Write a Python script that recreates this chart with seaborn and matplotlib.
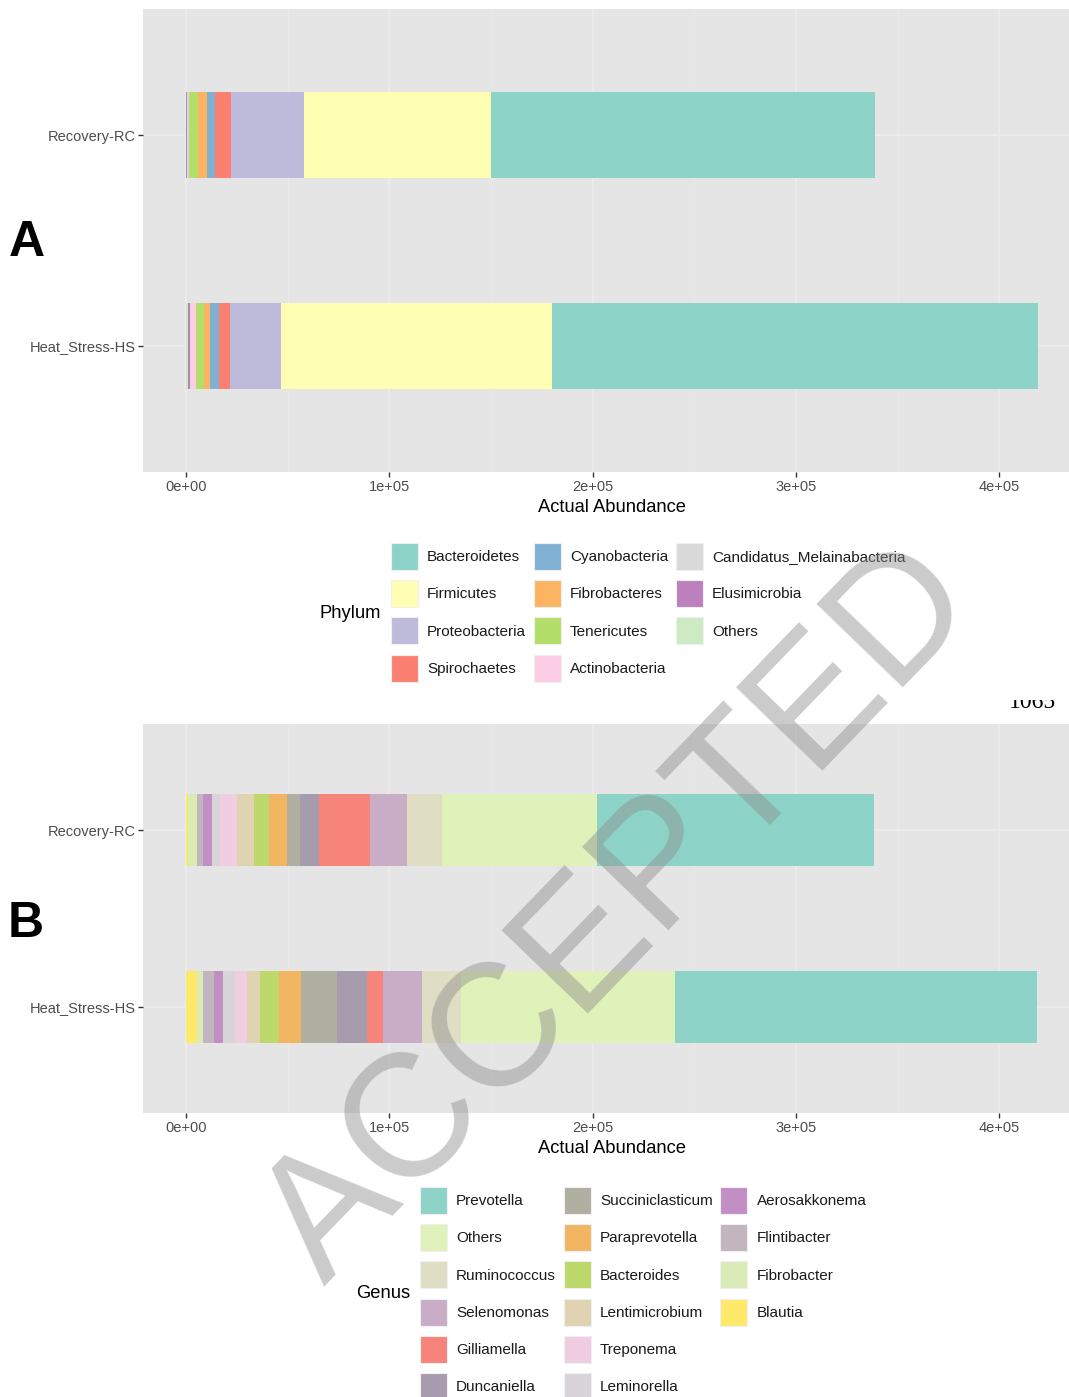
import numpy as np
import pandas as pd
import seaborn as sns
import matplotlib
matplotlib.use("Agg")
import matplotlib.pyplot as plt
from matplotlib.patches import Patch, Rectangle

# Samples, listed bottom to top
samples = ["Heat_Stress-HS", "Recovery-RC"]

# Phylum-level abundance (legend order; first level sits at the right end of the stack)
phyla = ["Bacteroidetes", "Firmicutes", "Proteobacteria", "Spirochaetes",
         "Cyanobacteria", "Fibrobacteres", "Tenericutes", "Actinobacteria",
         "Candidatus_Melainabacteria", "Elusimicrobia", "Others"]
phylum_hs = [239400, 133300, 25100, 5100, 4300, 2900, 4300, 2400, 300, 1000, 1100]
phylum_rc = [188900, 91800, 35700, 7900, 4300, 4300, 4200, 200, 700, 500, 200]
phylum_colors = ["#8DD3C7", "#FFFFB3", "#BEBADA", "#FB8072", "#80B1D3", "#FDB462",
                 "#B3DE69", "#FCCDE5", "#D9D9D9", "#BC80BD", "#CCEBC5"]

# Genus-level abundance
genera = ["Prevotella", "Others", "Ruminococcus", "Selenomonas", "Gilliamella",
          "Duncaniella", "Succiniclasticum", "Paraprevotella", "Bacteroides",
          "Lentimicrobium", "Treponema", "Leminorella", "Aerosakkonema",
          "Flintibacter", "Fibrobacter", "Blautia"]
genus_hs = [178300, 105200, 19300, 19300, 7900, 14400, 17800, 10900, 9400,
            6200, 5800, 6000, 4400, 5600, 2800, 5500]
genus_rc = [136300, 76400, 17100, 18100, 25100, 9500, 6200, 9300, 7200,
            8500, 8000, 4300, 4300, 2800, 4300, 1200]
genus_colors = ["#8DD3C7", "#E0F2B9", "#DFDDC4", "#C9ADC6", "#F6847A", "#A79CAE",
                "#AFB0A2", "#F2B662", "#BDD86B", "#DFD3B2", "#F0CDE0", "#D8D4D8",
                "#C18FC3", "#C2B5BE", "#DAEBB6", "#FFE96B"]

x_ticks = [0, 100000, 200000, 300000, 400000]
x_tick_labels = ["0e+00", "1e+05", "2e+05", "3e+05", "4e+05"]

sns.set_style("darkgrid", {"axes.facecolor": "#E5E5E5", "grid.color": "#EDEDED"})
plt.rcParams["font.family"] = ["Liberation Sans", "DejaVu Sans"]
plt.rcParams["text.color"] = "black"

W, H = 1069, 1397
fig = plt.figure(figsize=(W / 100, H / 100), dpi=100)

XMIN, XMAX = -21150, 440000
PX_PER_UNIT = 203.3 / 1e5
ax_w = (XMAX - XMIN) * PX_PER_UNIT / W


def long_frame(taxa, hs, rc):
    rows = []
    for pos, vals in enumerate([hs, rc]):
        for t, v in zip(taxa, vals):
            rows.append({"pos": pos, "taxon": t, "value": v})
    return pd.DataFrame(rows)


def stacked_panel(rect, taxa, hs, rc, colors):
    ax = fig.add_axes(rect)
    df = long_frame(taxa, hs, rc)
    sns.histplot(data=df, y="pos", hue="taxon", weights="value",
                 hue_order=taxa, palette=dict(zip(taxa, colors)),
                 multiple="stack", discrete=True, shrink=0.41,
                 alpha=1, linewidth=0, legend=False, ax=ax)
    ax.set_xlim(XMIN, XMAX)
    ax.set_ylim(-0.6, 1.6)
    ax.set_yticks([0, 1])
    ax.set_yticklabels(samples)
    ax.set_xticks(x_ticks)
    ax.set_xticklabels(x_tick_labels)
    ax.set_xticks(np.arange(50000, XMAX, 100000), minor=True)
    ax.grid(which="major", color="#EDEDED", linewidth=1.1)
    ax.grid(which="minor", axis="x", color="#EAEAEA", linewidth=0.6)
    ax.set_axisbelow(True)
    ax.tick_params(axis="both", which="major", length=3.5, width=1,
                   bottom=True, left=True,
                   color="#333333", labelcolor="#4D4D4D", labelsize=10.5, pad=2)
    ax.tick_params(which="minor", length=0)
    ax.set_ylabel("")
    ax.set_xlabel("Actual Abundance", fontsize=13.2, color="black", labelpad=4)
    for s in ax.spines.values():
        s.set_visible(False)
    return ax


# Panel A: phylum
top_a, bot_a = 9, 472
stacked_panel([143 / W, 1 - bot_a / H, ax_w, (bot_a - top_a) / H],
              phyla, phylum_hs, phylum_rc, phylum_colors)

# Panel B: genus
top_b, bot_b = 724, 1113
stacked_panel([143 / W, 1 - bot_b / H, ax_w, (bot_b - top_b) / H],
              genera, genus_hs, genus_rc, genus_colors)

# Legends
leg_kw = dict(loc="upper left", ncol=3, frameon=False, fontsize=11,
              handlelength=1.77, handleheight=2.34, handletextpad=0.6,
              labelspacing=0.67, columnspacing=0.5, borderpad=0,
              borderaxespad=0, labelcolor="#1A1A1A")
handles_a = [Patch(facecolor=c, edgecolor="#F0F0F0", linewidth=0.8, label=t)
             for t, c in zip(phyla, phylum_colors)]
fig.legend(handles=handles_a, bbox_to_anchor=(391 / W, 1 - 543 / H), **leg_kw)
fig.text(381 / W, 1 - 613 / H, "Phylum", ha="right", va="center", fontsize=13.2)

handles_b = [Patch(facecolor=c, edgecolor="#F0F0F0", linewidth=0.8, label=t)
             for t, c in zip(genera, genus_colors)]
# two empty slots so the columns hold 6, 6 and 4 entries
handles_b += [Patch(facecolor="none", edgecolor="none", label="") for _ in range(2)]
fig.legend(handles=handles_b, bbox_to_anchor=(420 / W, 1 - 1187 / H), **leg_kw)
fig.text(410 / W, 1 - 1293 / H, "Genus", ha="right", va="center", fontsize=13.2)

# Panel letters
fig.text(27 / W, 1 - 243 / H, "A", ha="center", va="center", fontsize=36,
         weight="bold", color="black")
fig.text(26 / W, 1 - 924 / H, "B", ha="center", va="center", fontsize=36,
         weight="bold", color="black")

# Page number, partly hidden at its top edge
fig.text(1032 / W, 1 - 708 / H, "1065", ha="center", va="baseline", fontsize=17,
         family="Liberation Serif", zorder=4)
fig.add_artist(Rectangle((980 / W, 1 - 700 / H), 89 / W, 30 / H,
                         transform=fig.transFigure, facecolor="white",
                         edgecolor="none", zorder=5))

# Watermark
fig.text(620 / W, 1 - 915 / H, "ACCEPTED", rotation=46, ha="center", va="center",
         fontsize=125, color="#8C8C8C", alpha=0.45, zorder=6,
         rotation_mode="anchor")

fig.savefig("out.png", dpi=100)
